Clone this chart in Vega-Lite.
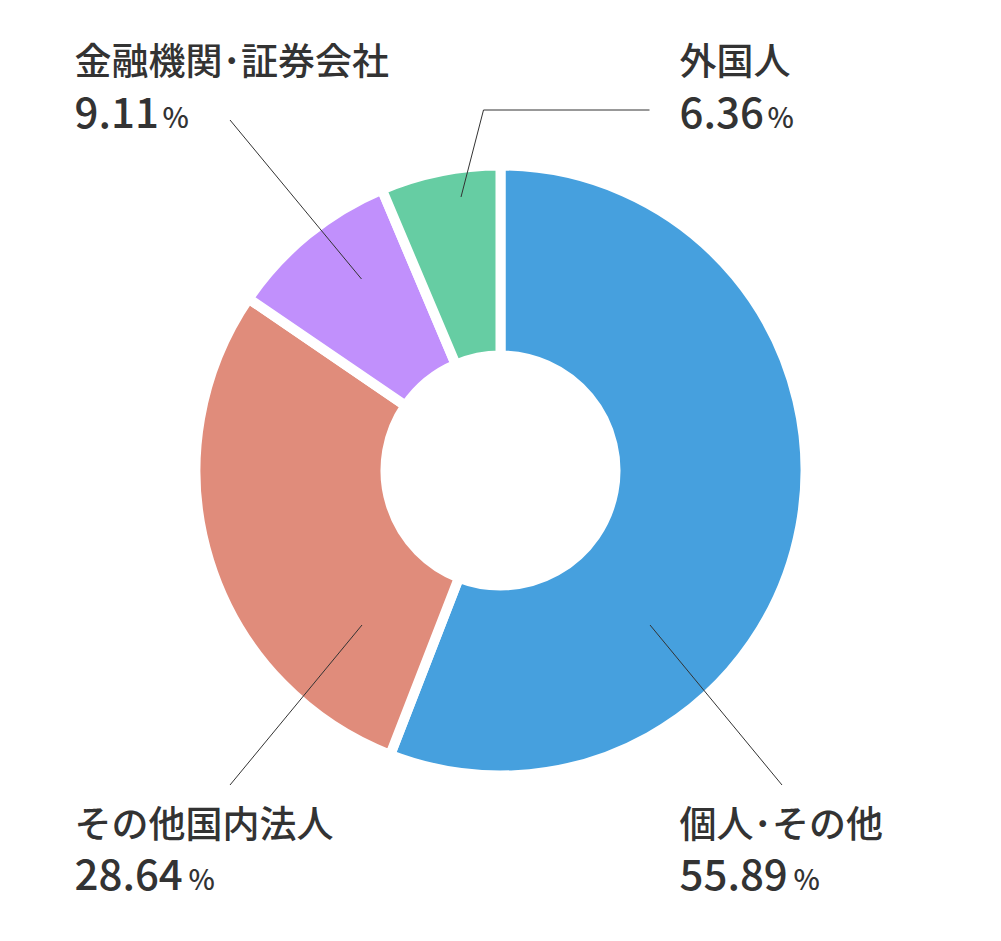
{
  "$schema": "https://vega.github.io/schema/vega-lite/v6.json",
  "width": 1001,
  "height": 941,
  "autosize": {"type": "fit", "contains": "padding"},
  "padding": 0,
  "background": "white",
  "config": {
    "view": {"stroke": null},
    "font": "Noto Sans CJK JP"
  },
  "datasets": {
    "shares": [
      {"name": "個人･その他", "pct": 55.89, "ord": 1, "lx": 179, "ly": -367.5, "ny": -419.5},
      {"name": "その他国内法人", "pct": 28.64, "ord": 2, "lx": -426, "ly": -367.5, "ny": -419.5},
      {"name": "金融機関･証券会社", "pct": 9.11, "ord": 3, "lx": -426, "ly": 395.5, "ny": 342.5},
      {"name": "外国人", "pct": 6.36, "ord": 4, "lx": 179, "ly": 395.5, "ny": 342.5}
    ],
    "leaders": [
      {"name": "個人･その他", "step": 1, "px": 149.5, "py": -154.5},
      {"name": "個人･その他", "step": 2, "px": 281.5, "py": -314.5},
      {"name": "その他国内法人", "step": 1, "px": -138.5, "py": -154.5},
      {"name": "その他国内法人", "step": 2, "px": -270.5, "py": -314.5},
      {"name": "金融機関･証券会社", "step": 1, "px": -139, "py": 191.5},
      {"name": "金融機関･証券会社", "step": 2, "px": -270.5, "py": 350.5},
      {"name": "外国人", "step": 1, "px": -39.5, "py": 273.5},
      {"name": "外国人", "step": 2, "px": -17, "py": 360.5},
      {"name": "外国人", "step": 3, "px": 149, "py": 360.5}
    ]
  },
  "layer": [
    {
      "data": {"name": "shares"},
      "mark": {"type": "arc", "outerRadius": 305, "innerRadius": 115, "stroke": "white", "strokeWidth": 10},
      "encoding": {
        "theta": {"field": "pct", "type": "quantitative", "stack": true},
        "order": {"field": "ord", "type": "quantitative"},
        "color": {
          "field": "name",
          "type": "nominal",
          "scale": {
            "domain": ["個人･その他", "その他国内法人", "金融機関･証券会社", "外国人"],
            "range": ["#46A0DE", "#E08C7B", "#C190FC", "#66CDA3"]
          },
          "legend": null
        }
      }
    },
    {
      "data": {"name": "leaders"},
      "mark": {"type": "line", "color": "#333333", "strokeWidth": 1},
      "encoding": {
        "x": {"field": "px", "type": "quantitative", "scale": {"domain": [-500.5, 500.5], "nice": false, "zero": false}, "axis": null},
        "y": {"field": "py", "type": "quantitative", "scale": {"domain": [-470.5, 470.5], "nice": false, "zero": false}, "axis": null},
        "detail": {"field": "name"},
        "order": {"field": "step", "type": "quantitative"}
      }
    },
    {
      "data": {"name": "shares"},
      "mark": {"type": "text", "align": "left", "baseline": "alphabetic", "fontSize": 37, "fontWeight": 500, "color": "#333333"},
      "encoding": {
        "x": {"field": "lx", "type": "quantitative", "scale": {"domain": [-500.5, 500.5], "nice": false, "zero": false}, "axis": null},
        "y": {"field": "ly", "type": "quantitative", "scale": {"domain": [-470.5, 470.5], "nice": false, "zero": false}, "axis": null},
        "text": {"field": "name"}
      }
    },
    {
      "data": {"name": "shares"},
      "mark": {"type": "text", "align": "left", "baseline": "alphabetic", "fontSize": 42, "fontWeight": 500, "color": "#333333"},
      "encoding": {
        "x": {"field": "lx", "type": "quantitative"},
        "y": {"field": "ny", "type": "quantitative"},
        "text": {"field": "pct", "type": "quantitative", "format": ".2f"}
      }
    },
    {
      "data": {"name": "shares"},
      "transform": [
        {"calculate": "datum.lx + 26 * length(format(datum.pct, '.2f')) - 16", "as": "pctx"}
      ],
      "mark": {"type": "text", "align": "left", "baseline": "alphabetic", "fontSize": 28, "fontWeight": 500, "color": "#333333", "text": "%"},
      "encoding": {
        "x": {"field": "pctx", "type": "quantitative"},
        "y": {"field": "ny", "type": "quantitative"}
      }
    }
  ]
}
